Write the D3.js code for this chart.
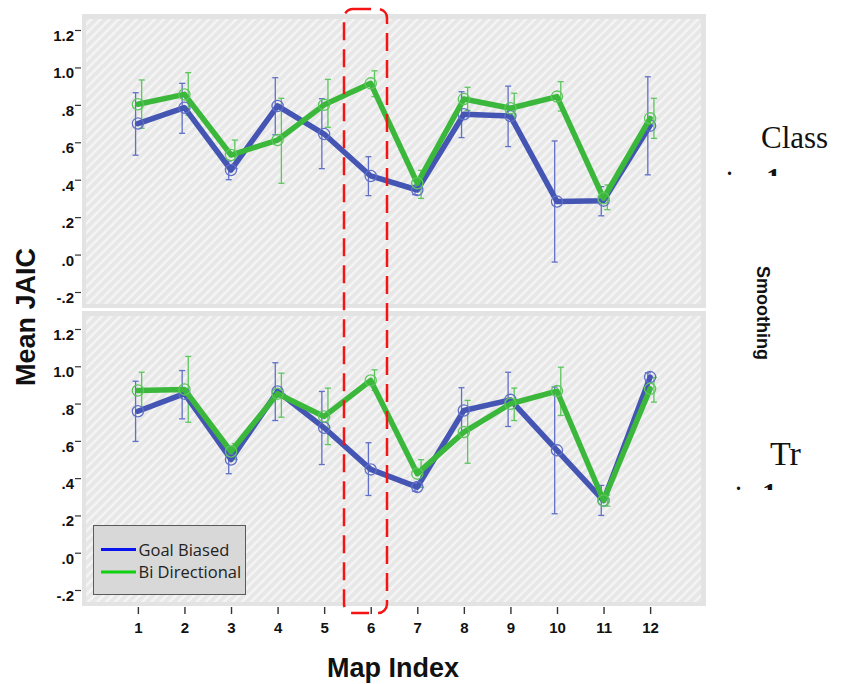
<!DOCTYPE html>
<html>
<head>
<meta charset="utf-8">
<script src="https://cdn.jsdelivr.net/npm/d3@7"></script>
<style>
  html, body { margin: 0; padding: 0; background: #ffffff; }
  svg { display: block; }
</style>
</head>
<body>
<svg id="chart" width="843" height="684"></svg>
<script>
// Map indices along the x axis
const mapIndex = [1, 2, 3, 4, 5, 6, 7, 8, 9, 10, 11, 12];

// y axis ticks and their printed labels
const yTicks = [-0.2, 0, 0.2, 0.4, 0.6, 0.8, 1.0, 1.2];
const yTickLabels = ["-.2", ".0", ".2", ".4", ".6", ".8", "1.0", "1.2"];

const seriesNames = ["Goal Biased", "Bi Directional"];

// Panel 1 (Class smoothing): means and error-bar limits
const classGoalMean = [0.70, 0.785, 0.452, 0.794, 0.644, 0.42, 0.345, 0.75, 0.74, 0.283, 0.288, 0.689];
const classGoalLow  = [0.531, 0.648, 0.40, 0.64, 0.459, 0.315, 0.32, 0.625, 0.577, -0.04, 0.207, 0.426];
const classGoalHigh = [0.865, 0.915, 0.50, 0.945, 0.833, 0.523, 0.37, 0.87, 0.90, 0.607, 0.363, 0.95];
const classBiMean   = [0.803, 0.856, 0.532, 0.612, 0.80, 0.915, 0.381, 0.831, 0.782, 0.844, 0.301, 0.728];
const classBiLow    = [0.675, 0.745, 0.46, 0.381, 0.68, 0.844, 0.30, 0.77, 0.70, 0.767, 0.24, 0.621];
const classBiHigh   = [0.933, 0.972, 0.612, 0.835, 0.936, 0.982, 0.45, 0.894, 0.862, 0.924, 0.372, 0.835];

// Panel 2 (Tr smoothing): means and error-bar limits
const trGoalMean = [0.759, 0.853, 0.50, 0.865, 0.67, 0.447, 0.352, 0.763, 0.82, 0.549, 0.28, 0.942];
const trGoalLow  = [0.597, 0.718, 0.424, 0.709, 0.473, 0.307, 0.33, 0.64, 0.677, 0.209, 0.20, 0.92];
const trGoalHigh = [0.92, 0.977, 0.57, 1.019, 0.865, 0.59, 0.375, 0.885, 0.968, 0.889, 0.361, 0.965];
const trBiMean   = [0.87, 0.876, 0.543, 0.853, 0.731, 0.924, 0.424, 0.647, 0.799, 0.867, 0.28, 0.879];
const trBiLow    = [0.77, 0.70, 0.50, 0.727, 0.58, 0.87, 0.35, 0.48, 0.709, 0.736, 0.25, 0.808];
const trBiHigh   = [0.968, 1.053, 0.585, 0.963, 0.883, 0.981, 0.499, 0.817, 0.883, 0.995, 0.31, 0.94];

// ---- layout and style ----
const svg = d3.select("#chart");
const frameX0 = 82, frameX1 = 706;
const lineColor = { goal: "#4455b4", bi: "#3bb83b" };
const markColor = { goal: "#6070c6", bi: "#5cc65c" };
const legendColor = { goal: "#0a14f0", bi: "#10d010" };

const x = d3.scalePoint().domain(mapIndex).range([frameX0, frameX1]).padding(1.2);

// diagonal hatch used for the panel backgrounds
const defs = svg.append("defs");
const pat = defs.append("pattern")
  .attr("id", "hatch").attr("patternUnits", "userSpaceOnUse")
  .attr("width", 6.4).attr("height", 6.4)
  .attr("patternTransform", "rotate(45)");
pat.append("rect").attr("width", 6.4).attr("height", 6.4).attr("fill", "#e7e7e7");
pat.append("line").attr("x1", 1.5).attr("x2", 1.5).attr("y1", 0).attr("y2", 6.4)
  .attr("stroke", "#f5f5f5").attr("stroke-width", 2.4);

const panels = [
  { top: 14, bottom: 308, yRange: [292, 30],
    goal: [classGoalMean, classGoalLow, classGoalHigh],
    bi: [classBiMean, classBiLow, classBiHigh] },
  { top: 311, bottom: 606, yRange: [590, 329],
    goal: [trGoalMean, trGoalLow, trGoalHigh],
    bi: [trBiMean, trBiLow, trBiHigh] }
];

panels.forEach((p, pi) => {
  const y = d3.scaleLinear().domain([-0.2, 1.2]).range(p.yRange);
  const g = svg.append("g");

  // frame + hatched plot area
  g.append("rect").attr("x", frameX0).attr("y", p.top)
    .attr("width", frameX1 - frameX0).attr("height", p.bottom - p.top)
    .attr("fill", "#e3e3e3");
  g.append("rect").attr("x", frameX0 + 4).attr("y", p.top + 5)
    .attr("width", frameX1 - frameX0 - 9).attr("height", p.bottom - p.top - 9)
    .attr("fill", "url(#hatch)");

  // y axis
  const ya = g.append("g").attr("transform", `translate(${frameX0 - 1},0)`)
    .call(d3.axisLeft(y).tickValues(yTicks).tickSize(6).tickPadding(1)
      .tickFormat((d, i) => yTickLabels[i]));
  ya.select(".domain").remove();
  ya.selectAll(".tick line").attr("stroke", "#333").attr("stroke-width", 1.2);
  ya.selectAll(".tick text")
    .attr("dy", "0.7em")
    .attr("font-family", "'Liberation Sans', Arial, sans-serif")
    .attr("font-weight", "bold").attr("font-size", 15).attr("fill", "#111");

  const series = [
    { key: "goal", data: p.goal, off: -2.3 },
    { key: "bi", data: p.bi, off: 3.8 }
  ];

  // error bars
  series.forEach(s => {
    const [mean, lo, hi] = s.data;
    const eb = g.append("g").attr("stroke", markColor[s.key]).attr("stroke-width", 1.3);
    mapIndex.forEach((m, i) => {
      const cx = x(m) + s.off;
      eb.append("line").attr("x1", cx).attr("x2", cx).attr("y1", y(lo[i])).attr("y2", y(hi[i]));
      eb.append("line").attr("x1", cx - 3).attr("x2", cx + 3).attr("y1", y(lo[i])).attr("y2", y(lo[i]));
      eb.append("line").attr("x1", cx - 3).attr("x2", cx + 3).attr("y1", y(hi[i])).attr("y2", y(hi[i]));
    });
  });

  // mean lines and circle markers
  series.forEach(s => {
    const mean = s.data[0];
    const line = d3.line().x((d, i) => x(mapIndex[i])).y(d => y(d));
    g.append("path").datum(mean).attr("d", line)
      .attr("fill", "none").attr("stroke", lineColor[s.key])
      .attr("stroke-width", 5.5).attr("stroke-linejoin", "round").attr("stroke-linecap", "round");
    g.selectAll(null).data(mean).join("circle")
      .attr("cx", (d, i) => x(mapIndex[i])).attr("cy", d => y(d)).attr("r", 5.6)
      .attr("fill", "none").attr("stroke", markColor[s.key]).attr("stroke-width", 1.3);
  });
});

// x axis under the lower panel
const xa = svg.append("g").attr("transform", "translate(0,607)")
  .call(d3.axisBottom(x).tickSize(7).tickPadding(8));
xa.select(".domain").remove();
xa.selectAll(".tick line").attr("stroke", "#333").attr("stroke-width", 1.4);
xa.selectAll(".tick text")
  .attr("font-family", "'Liberation Sans', Arial, sans-serif")
  .attr("font-weight", "bold").attr("font-size", 15).attr("fill", "#111");

// axis titles
svg.append("text").attr("x", 393).attr("y", 677).attr("text-anchor", "middle")
  .attr("font-family", "'Liberation Sans', Arial, sans-serif").attr("font-weight", "bold")
  .attr("font-size", 27).attr("fill", "#111").text("Map Index");
svg.append("text").attr("transform", "translate(35,317) rotate(-90)").attr("text-anchor", "middle")
  .attr("font-family", "'Liberation Sans', Arial, sans-serif").attr("font-weight", "bold")
  .attr("font-size", 27).attr("fill", "#111").text("Mean JAIC");
svg.append("text").attr("transform", "translate(757,313) rotate(90)").attr("text-anchor", "middle")
  .attr("font-family", "'Liberation Sans', Arial, sans-serif").attr("font-weight", "bold")
  .attr("font-size", 18).attr("fill", "#111").text("Smoothing");

// panel labels on the right
const serif = "'Liberation Serif', 'Times New Roman', serif";
svg.append("text").attr("x", 761).attr("y", 148).attr("font-family", serif)
  .attr("font-size", 31).attr("fill", "#111").text("Class");
svg.append("text").attr("x", 770).attr("y", 465).attr("font-family", serif)
  .attr("font-size", 34).attr("fill", "#111").text("Tr");

// clipped remnants of the second line of each panel label
defs.append("clipPath").attr("id", "cut1").append("rect").attr("x", 720).attr("y", 160).attr("width", 120).attr("height", 16);
defs.append("clipPath").attr("id", "cut2").append("rect").attr("x", 720).attr("y", 476).attr("width", 120).attr("height", 14);
[["cut1", 727, 766, 188, 175], ["cut2", 736, 762, 503, 490]].forEach(([id, dx, ox, by, dy]) => {
  svg.append("text").attr("x", dx).attr("y", dy).attr("font-family", serif).attr("font-weight", "bold")
    .attr("font-size", 20).attr("fill", "#111").text(".");
  svg.append("g").attr("clip-path", `url(#${id})`)
    .append("text").attr("x", ox).attr("y", by).attr("font-family", serif).attr("font-weight", "bold")
    .attr("font-size", 30).attr("fill", "#111").text("1");
});

// legend
const lg = svg.append("g");
lg.append("rect").attr("x", 93.5).attr("y", 525.5).attr("width", 152).attr("height", 69)
  .attr("fill", "#d8d8d8").attr("stroke", "#5a5a5a").attr("stroke-width", 1);
seriesNames.forEach((name, i) => {
  const key = i === 0 ? "goal" : "bi";
  const ly = 549.5 + i * 22.5;
  lg.append("line").attr("x1", 101).attr("x2", 136).attr("y1", ly).attr("y2", ly)
    .attr("stroke", legendColor[key]).attr("stroke-width", 3);
  lg.append("text").attr("x", 138.5).attr("y", ly + 6)
    .attr("font-family", "'Open Sans', sans-serif").attr("font-size", 16.5)
    .attr("fill", "#222").text(name);
});

// highlight around map 6
svg.append("rect").attr("x", 344).attr("y", 9).attr("width", 43).attr("height", 604)
  .attr("rx", 9).attr("ry", 9).attr("fill", "none")
  .attr("stroke", "#f41414").attr("stroke-width", 2.5).attr("stroke-dasharray", "18 9");
</script>
</body>
</html>
